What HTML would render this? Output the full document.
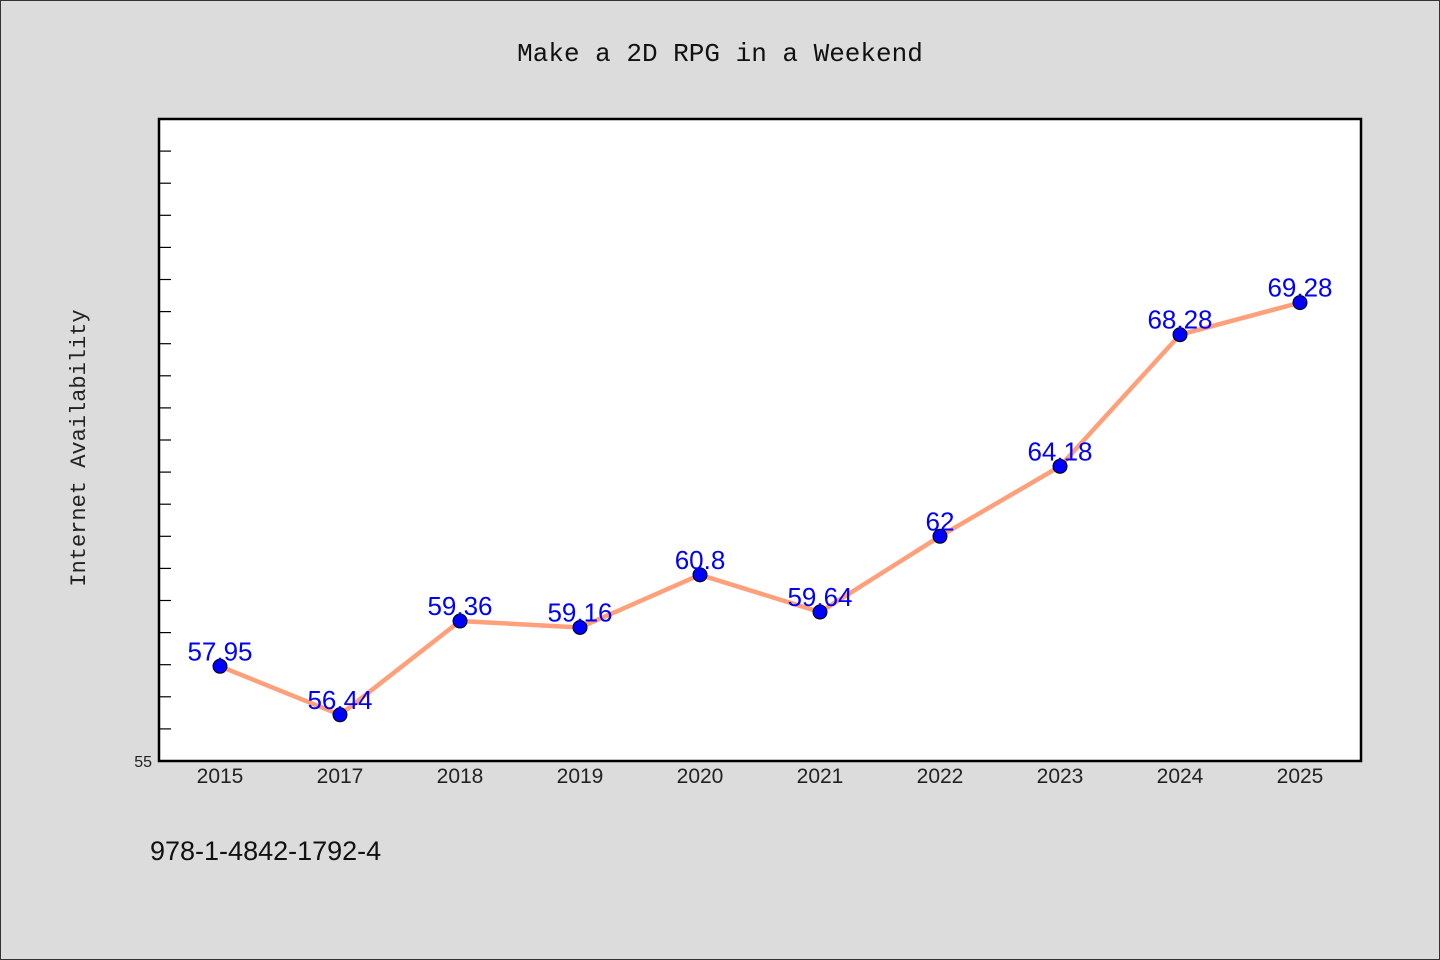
<!DOCTYPE html>
<html><head><meta charset="utf-8"><style>
body{margin:0;background:#dcdcdc;}
svg{display:block;font-family:"Liberation Sans","DejaVu Sans",sans-serif;}
</style></head><body>
<svg id="c" width="1440" height="960">
<rect x="0.5" y="0.5" width="1439" height="959" fill="#dcdcdc" stroke="#333"/>
<text x="720" y="61" text-anchor="middle" font-size="26" font-family="Liberation Mono, DejaVu Sans Mono, monospace" fill="#111">Make a 2D RPG in a Weekend</text>
<rect x="159" y="119" width="1202" height="642" fill="#fff" stroke="#000" stroke-width="2.5"/>
<text transform="translate(85,448) rotate(-90)" text-anchor="middle" font-size="22" font-family="Liberation Mono, DejaVu Sans Mono, monospace" fill="#222">Internet Availability</text>
<text x="150" y="860" font-size="27" fill="#111">978-1-4842-1792-4</text>
<g id="ticks"></g><g id="marks"></g>
</svg>
<script>
const categories=["2015","2017","2018","2019","2020","2021","2022","2023","2024","2025"];
const values=[57.95,56.44,59.36,59.16,60.8,59.64,62,64.18,68.28,69.28];
const labels=["57.95","56.44","59.36","59.16","60.8","59.64","62","64.18","68.28","69.28"];
const yMin=55,yMax=75;
const NS="http://www.w3.org/2000/svg";
const x=i=>220+i*120;
const y=v=>761-(v-yMin)/(yMax-yMin)*642;
function mk(t,a,p){const e=document.createElementNS(NS,t);for(const k in a)e.setAttribute(k,a[k]);p.appendChild(e);return e;}
const tg=document.getElementById('ticks'),mg=document.getElementById('marks');
for(let v=yMin+1;v<yMax;v++){const l=mk('line',{x1:159,x2:171,y1:y(v),y2:y(v),stroke:'#000','stroke-width':1.2},tg);

}
const yl=mk('text',{x:152,y:767,'text-anchor':'end','font-size':16,fill:'#222'},tg);yl.textContent="55";


categories.forEach((c,i)=>{const t=mk('text',{x:x(i),y:783,'text-anchor':'middle','font-size':21,fill:'#222'},tg);t.textContent=c;

});
const pl=mk('polyline',{points:values.map((v,i)=>x(i)+','+y(v)).join(' '),fill:'none',stroke:'#ffa07a','stroke-width':4.5,'stroke-linejoin':'round'},mg);


values.forEach((v,i)=>{const c=mk('circle',{cx:x(i),cy:y(v),r:7,fill:'#0000ff',stroke:'#000','stroke-width':1},mg);


const t=mk('text',{x:x(i),y:y(v)-6,'text-anchor':'middle','font-size':26,fill:'#0000ff'},mg);t.textContent=labels[i];

});
</script>
</body></html>
